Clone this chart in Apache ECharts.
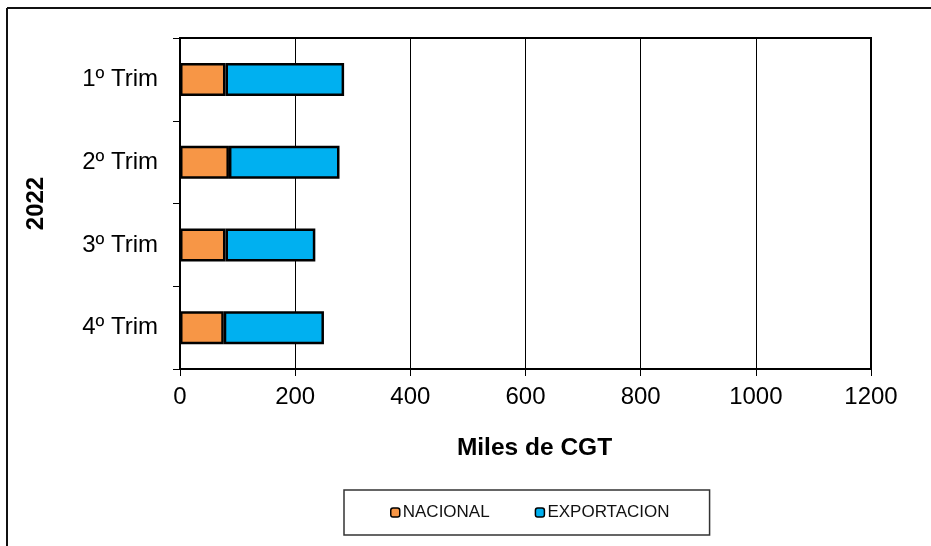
<!DOCTYPE html>
<html>
<head>
<meta charset="utf-8">
<script src="https://cdn.jsdelivr.net/npm/echarts@6/dist/echarts.min.js"></script>
<style>
html,body{margin:0;padding:0;background:#fff;}
#chart{width:931px;height:546px;}
</style>
</head>
<body>
<div id="chart"></div>
<script>
var categories = ['1º Trim', '2º Trim', '3º Trim', '4º Trim'];
var nacional = [79, 85, 79, 76];
var exportacion = [206, 192, 156, 174];
var xTicks = [0, 200, 400, 600, 800, 1000, 1200];

var chart = echarts.init(document.getElementById('chart'));
var font = 'Liberation Sans, Arial, sans-serif';
chart.setOption({
  animation: false,
  backgroundColor: '#fff',
  textStyle: { fontFamily: font },
  graphic: [
    { type: 'line', shape: { x1: 7, y1: 8, x2: 7, y2: 546 }, style: { stroke: '#111', lineWidth: 2 } },
    { type: 'line', shape: { x1: 7, y1: 8, x2: 931, y2: 8 }, style: { stroke: '#111', lineWidth: 2 } }
  ],
  grid: {
    left: 180, right: 60, top: 38, bottom: 177,
    show: true, borderColor: '#000', borderWidth: 2, backgroundColor: 'transparent'
  },
  legend: {
    left: 344, top: 490,
    padding: [14, 40, 14, 46],
    itemGap: 45,
    itemWidth: 9, itemHeight: 9,
    itemStyle: { borderColor: '#000', borderWidth: 1.5 },
    borderColor: '#333', borderWidth: 1.5,
    textStyle: { fontSize: 17, color: '#111', fontFamily: font, padding: [0, 0, 0, -2] },
    data: ['NACIONAL', 'EXPORTACION']
  },
  xAxis: {
    type: 'value', min: 0, max: 1200, interval: 200,
    name: 'Miles de CGT', nameLocation: 'middle', nameGap: 67,
    nameTextStyle: { fontSize: 24.5, fontWeight: 'bold', color: '#000', fontFamily: font, padding: [0, 0, 0, 18] },
    axisLine: { show: true, lineStyle: { color: '#000', width: 2 } },
    axisTick: { show: true, length: 7, lineStyle: { color: '#000', width: 1 } },
    axisLabel: { fontSize: 24, color: '#000', margin: 16,
      formatter: function (v) { return xTicks.indexOf(v) >= 0 ? String(v) : ''; } },
    splitLine: { show: true, lineStyle: { color: '#000', width: 1 } }
  },
  yAxis: {
    type: 'category', data: categories, inverse: true,
    name: '2022', nameLocation: 'middle', nameGap: 132, nameRotate: 90,
    nameTextStyle: { fontSize: 24, fontWeight: 'bold', color: '#000', fontFamily: font },
    axisLine: { show: true, lineStyle: { color: '#000', width: 2 } },
    axisTick: { show: true, length: 7, lineStyle: { color: '#000', width: 1 } },
    axisLabel: { fontSize: 24, color: '#000', margin: 22 }
  },
  series: [
    { name: 'NACIONAL', type: 'bar', stack: 'a', data: nacional, barWidth: 33,
      itemStyle: { color: '#F79646', borderColor: '#000', borderWidth: 2.5 } },
    { name: 'EXPORTACION', type: 'bar', stack: 'a', data: exportacion, barWidth: 33,
      itemStyle: { color: '#00B0F0', borderColor: '#000', borderWidth: 2.5 } }
  ]
});
</script>
</body>
</html>
